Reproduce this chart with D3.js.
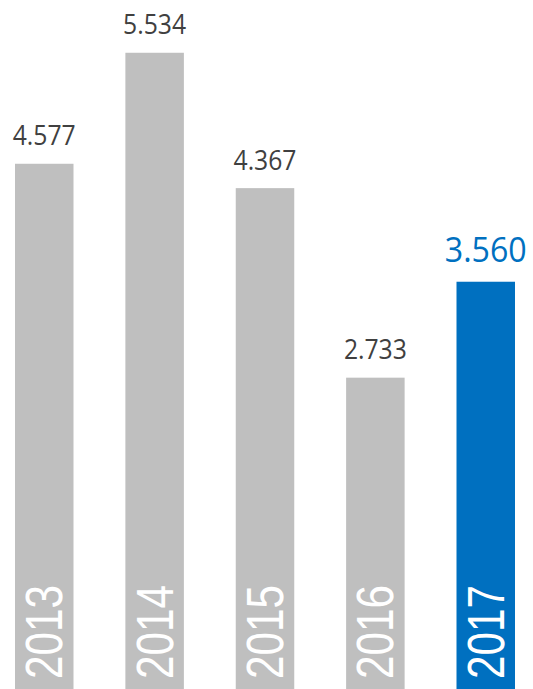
<!DOCTYPE html>
<html>
<head>
<meta charset="utf-8">
<script src="https://cdn.jsdelivr.net/npm/d3@7"></script>
<style>
  body { margin: 0; background: #fff; }
</style>
</head>
<body>
<div id="visualization"></div>
<script>
const years = ["2013", "2014", "2015", "2016", "2017"];
const values = [4.577, 5.534, 4.367, 2.733, 3.560];
const valueLabels = ["4.577", "5.534", "4.367", "2.733", "3.560"];
const highlightYear = "2017";

const width = 533;
const height = 689;

const data = years.map((y, i) => ({ year: y, value: values[i], label: valueLabels[i] }));

const xScale = d3.scaleBand()
    .domain(years)
    .range([15, 515])
    .paddingInner(0.47)
    .paddingOuter(0);

// baseline sits a few px below the picture, bars run off the bottom edge
const yScale = d3.scaleLinear()
    .domain([0, 6])
    .range([694.7, -1.3]);

const svg = d3.select("#visualization")
    .append("svg")
    .attr("width", width)
    .attr("height", height);

const isHi = d => d.year === highlightYear;

svg.selectAll(".bar")
    .data(data)
    .enter()
    .append("rect")
        .attr("class", "bar")
        .attr("x", d => xScale(d.year))
        .attr("y", d => yScale(d.value))
        .attr("width", xScale.bandwidth())
        .attr("height", d => yScale(0) - yScale(d.value))
        .style("fill", d => isHi(d) ? "#0070C0" : "#BFBFBF");

// value labels above bars
svg.selectAll(".value")
    .data(data)
    .enter()
    .append("text")
        .attr("class", "value")
        .attr("x", d => xScale(d.year) + xScale.bandwidth() / 2)
        .attr("y", d => yScale(d.value) - (isHi(d) ? 20 : 18.5))
        .attr("text-anchor", "middle")
        .attr("textLength", d => isHi(d) ? 82 : 63)
        .attr("lengthAdjust", "spacingAndGlyphs")
        .style("font-family", "'Open Sans', 'Noto Sans', sans-serif")
        .style("font-size", d => isHi(d) ? "34px" : "27.5px")
        .style("fill", d => isHi(d) ? "#0070C0" : "#404040")
        .text(d => d.label);

// year labels, rotated, inside the bottom of each bar
svg.selectAll(".year")
    .data(data)
    .enter()
    .append("text")
        .attr("class", "year")
        .attr("transform", d => "translate(" + (xScale(d.year) + xScale.bandwidth() / 2 + 18) + ",679) rotate(-90)")
        .attr("textLength", 94)
        .attr("lengthAdjust", "spacingAndGlyphs")
        .style("font-family", "'Liberation Sans', Arial, sans-serif")
        .style("font-size", "51px")
        .style("fill", "#fff")
        .text(d => d.year);
</script>
</body>
</html>
